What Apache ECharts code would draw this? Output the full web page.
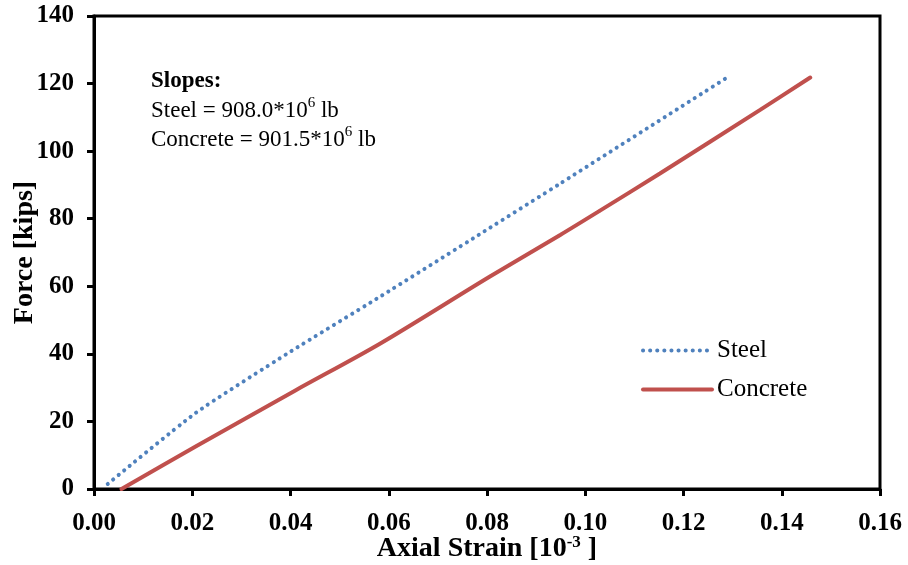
<!DOCTYPE html>
<html>
<head>
<meta charset="utf-8">
<script src="https://cdn.jsdelivr.net/npm/echarts@6/dist/echarts.min.js"></script>
<style>
  html, body { margin: 0; padding: 0; background: #fff; }
  #main { width: 908px; height: 565px; }
</style>
</head>
<body>
<div id="main"></div>
<script>
// values (strain in 10^-3, force in kips)
var steelStrain = [0.0028, 0.0206, 0.0396, 0.0582, 0.0795, 0.0950, 0.1291];
var steelForce = [1.5, 22.4, 40.3, 56.9, 76.3, 90.5, 122.0];
var concreteStrain = [0.0056, 0.0206, 0.0409, 0.0582, 0.0806, 0.0949, 0.1030, 0.1152, 0.1356, 0.1458];
var concreteForce = [0.0, 12.5, 29.1, 43.0, 62.9, 75.2, 82.4, 93.4, 112.2, 121.8];
var xTicks = [0, 0.02, 0.04, 0.06, 0.08, 0.10, 0.12, 0.14, 0.16];
var yTicks = [0, 20, 40, 60, 80, 100, 120, 140];

var font = 'Liberation Serif';

function pairs(xs, ys) {
    var out = [];
    for (var i = 0; i < xs.length; i++) out.push([xs[i], ys[i]]);
    return out;
}

var myChart = echarts.init(document.getElementById('main'));

var option = {
    backgroundColor: '#fff',
    animation: false,
    grid: {
        left: 94, right: 28, top: 16, bottom: 76,
        outerBoundsMode: 'none',
        show: true, borderColor: '#000', borderWidth: 3
    },
    legend: {
        left: 641, top: 338,
        orient: 'vertical',
        padding: 0,
        itemWidth: 69, itemHeight: 14, itemGap: 14,
        itemStyle: { opacity: 0 },
        lineStyle: { width: 4, cap: 'round' },
        textStyle: { fontFamily: font, fontSize: 25, color: '#000' },
        data: ['Steel', 'Concrete']
    },
    xAxis: {
        type: 'value',
        min: xTicks[0], max: xTicks[xTicks.length - 1], interval: 0.02,
        name: '{a|Axial Strain [10}{s|-3}{a| ]}',
        nameLocation: 'middle', nameGap: 45, nameMoveOverlap: false,
        nameTextStyle: {
            rich: {
                a: { fontFamily: font, fontWeight: 'bold', fontSize: 28, color: '#000', lineHeight: 30 },
                s: { fontFamily: font, fontWeight: 'bold', fontSize: 17, color: '#000', lineHeight: 30, verticalAlign: 'top' }
            }
        },
        axisLine: { lineStyle: { color: '#000', width: 3 } },
        axisTick: { show: true, inside: false, length: 7, lineStyle: { color: '#000', width: 3 } },
        axisLabel: {
            margin: 22, fontFamily: font, fontWeight: 'bold', fontSize: 25, color: '#000',
            formatter: function (v) { return v.toFixed(2); }
        },
        splitLine: { show: false }
    },
    yAxis: {
        type: 'value',
        min: yTicks[0], max: yTicks[yTicks.length - 1], interval: 20,
        name: 'Force [kips]',
        nameLocation: 'middle', nameGap: 55, nameMoveOverlap: false,
        nameTextStyle: { fontFamily: font, fontWeight: 'bold', fontSize: 28, color: '#000' },
        axisLine: { lineStyle: { color: '#000', width: 3 } },
        axisTick: { show: true, inside: false, length: 7, lineStyle: { color: '#000', width: 3 } },
        axisLabel: { margin: 20, fontFamily: font, fontWeight: 'bold', fontSize: 25, color: '#000' },
        splitLine: { show: false }
    },
    graphic: [{
        type: 'text',
        left: 151, top: 70,
        style: {
            text: '{b|Slopes:}\n{a|Steel = 908.0*10}{s|6}{a| lb}\n{a|Concrete = 901.5*10}{s|6}{a| lb}',
            rich: {
                b: { fontFamily: font, fontWeight: 'bold', fontSize: 23, color: '#000', lineHeight: 29 },
                a: { fontFamily: font, fontSize: 23, color: '#000', lineHeight: 29 },
                s: { fontFamily: font, fontSize: 15, color: '#000', lineHeight: 29, verticalAlign: 'top' }
            }
        }
    }],
    series: [
        {
            name: 'Steel',
            type: 'line',
            data: pairs(steelStrain, steelForce),
            showSymbol: false, symbol: 'none',
            smooth: 0.2,
            itemStyle: { color: '#4F81BD' },
            lineStyle: { color: '#4F81BD', width: 4, type: [0.1, 7], cap: 'round' }
        },
        {
            name: 'Concrete',
            type: 'line',
            data: pairs(concreteStrain, concreteForce),
            showSymbol: false, symbol: 'none',
            smooth: 0.3,
            itemStyle: { color: '#C0504D' },
            lineStyle: { color: '#C0504D', width: 4, cap: 'round' }
        }
    ]
};

myChart.setOption(option);
</script>
</body>
</html>
